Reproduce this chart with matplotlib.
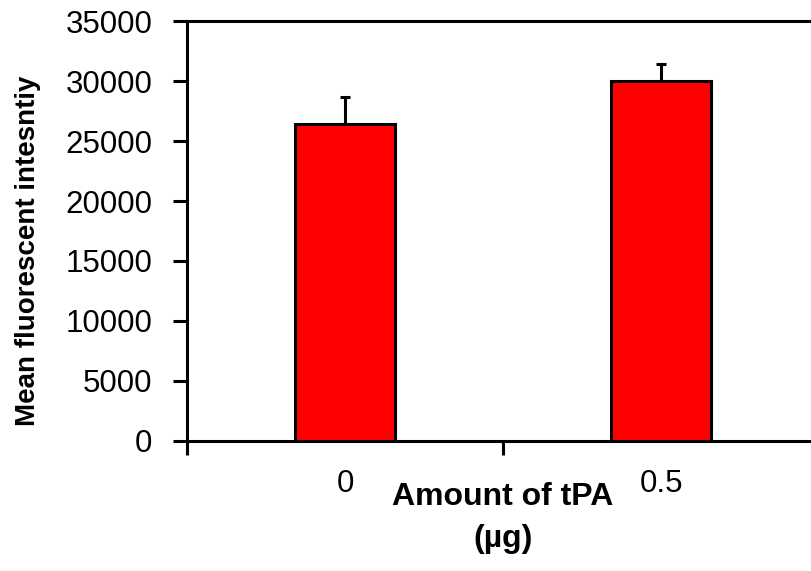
import numpy as np
import matplotlib
matplotlib.use("Agg")
import matplotlib.pyplot as plt

# tPA dose vs mean fluorescence
categories = ["0", "0.5"]
means = [26400, 30000]
errors = [2250, 1400]

plt.rcParams["font.family"] = ["Liberation Sans", "DejaVu Sans"]

fig = plt.figure(figsize=(8.11, 5.71), dpi=100)
ax = fig.add_axes([0.2306, 0.2277, 0.7793, 0.7355])

x = np.arange(len(categories))
lw = 2.2
ax.bar(x, means, width=0.316, color="#ff0000", edgecolor="black", linewidth=lw,
       zorder=2)
# upper error bars only
ax.errorbar(x, means, yerr=[np.zeros(len(errors)), errors], fmt="none",
            ecolor="black", elinewidth=lw, capsize=3.5, capthick=lw, zorder=1)

ax.set_xlim(-0.5, 1.5)
ax.set_ylim(0, 35000)
ax.set_yticks(np.arange(0, 35001, 5000))

ax.set_xticks(x)
ax.set_xticklabels(categories)
ax.set_xticks([-0.5, 0.5, 1.5], minor=True)
ax.tick_params(axis="x", which="major", length=0, pad=20, labelsize=22.5)
ax.tick_params(axis="x", which="minor", length=10, width=lw, direction="out")
ax.tick_params(axis="y", length=10, width=lw, direction="out", labelsize=22.5,
               pad=15)

for side in ["left", "bottom", "top"]:
    ax.spines[side].set_linewidth(lw)
ax.spines["right"].set_visible(False)

ax.set_ylabel("Mean fluorescent intesntiy", fontsize=20, fontweight="bold",
              va="center")
ax.yaxis.set_label_coords(-0.252, 0.452)
ax.set_xlabel("Amount of tPA\n(µg)", fontsize=23, fontweight="bold",
              linespacing=1.55, va="top")
ax.xaxis.set_label_coords(0.5, -0.097)

fig.savefig("out.png", dpi=100)
